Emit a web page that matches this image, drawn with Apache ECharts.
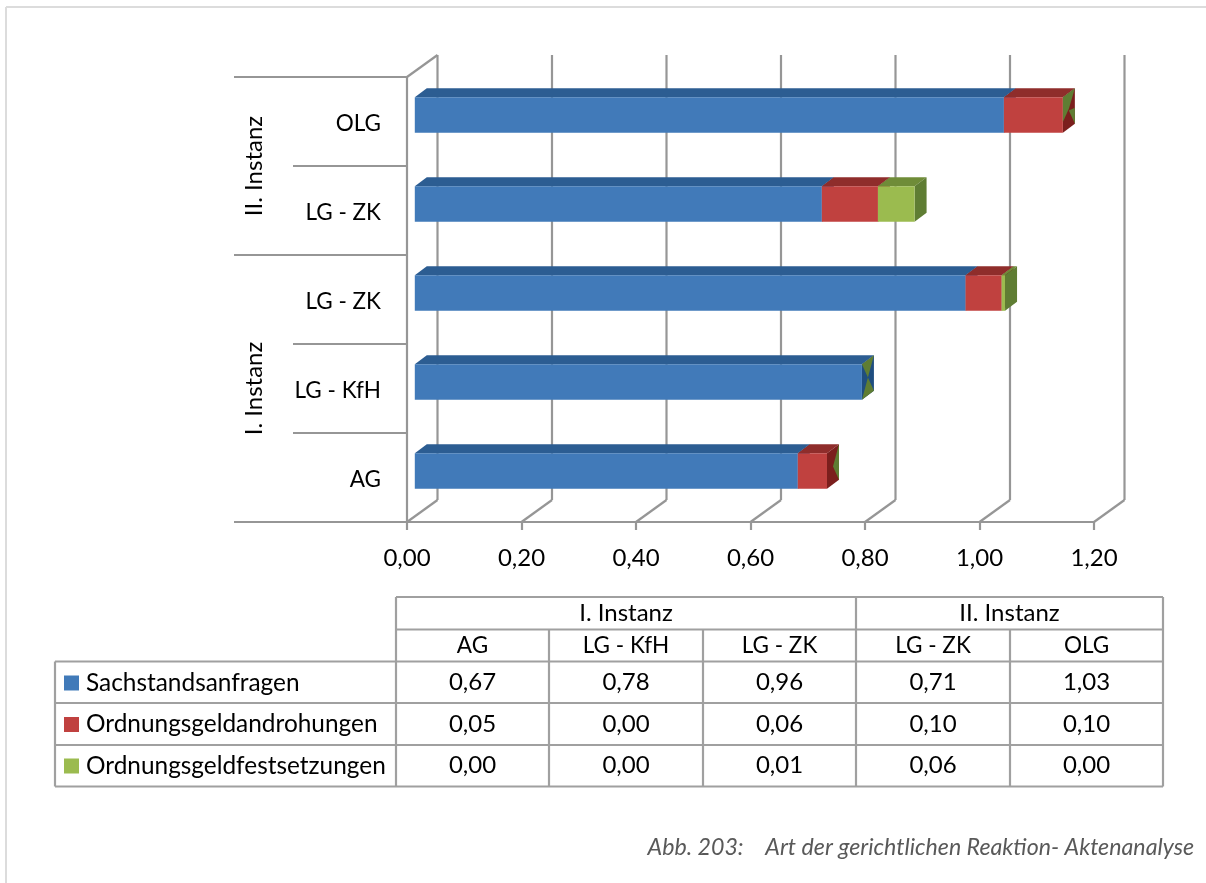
<!DOCTYPE html>
<html><head><meta charset="utf-8">
<style>html,body{margin:0;padding:0;background:#fff}#c{width:1206px;height:883px}</style>
<script src="https://cdn.jsdelivr.net/npm/echarts@6/dist/echarts.min.js"></script>
</head><body><div id="c"></div>
<script>
const categories = ['AG', 'LG - KfH', 'LG - ZK', 'LG - ZK', 'OLG'];
const sachstandsanfragen = [0.669, 0.781, 0.962, 0.711, 1.029];
const ordnungsgeldandrohungen = [0.051, 0.000, 0.063, 0.098, 0.103];
const ordnungsgeldfestsetzungen = [0.000, 0.000, 0.006, 0.064, 0.000];
const seriesNames = ['Sachstandsanfragen', 'Ordnungsgeldandrohungen', 'Ordnungsgeldfestsetzungen'];
const groupLabels = ['I. Instanz', 'II. Instanz'];
const groupFirst = [0, 3];
const groupLast = [2, 4];
const axisTicks = [0, 0.2, 0.4, 0.6, 0.8, 1.0, 1.2];
const caption = 'Abb. 203:    Art der gerichtlichen Reaktion- Aktenanalyse';

const FONT = 'Lato, Carlito, sans-serif';
const FS = 24;
const FS_LEG = 24.4;
const FS_CAT = 22.5;
const LINE = '#969696';
const LW = 2.2;
const DEPTH = [30.5, -22];
const NEAR = [7.8, -6.5], FAR = [19.8, -15.5];
const faces = [
  {front: '#417ab9', top: '#2c5d92', side: '#1f4e80'},
  {front: '#c0413f', top: '#8f2d2b', side: '#7b1f1d'},
  {front: '#9bbb4f', top: '#6f8c38', side: '#5f7d33'}
];
// Where a zero-valued segment z-fights on the bar's end cap (depth u, height w)
const capFacets = {
  0: [[[1,0],[0.5,0.5],[1,1]]],
  1: [[[0,0],[1,0],[0.5,0.5],[1,1],[0,1],[0.5,0.5]]],
  4: [[[0,0],[1,0],[0.5,0.45],[0,0.7]], [[0.5,0.5],[1,0.55],[1,1]]]
};
const valueSets = [sachstandsanfragen, ordnungsgeldandrohungen, ordnungsgeldfestsetzungen];

function segmentData(si) {
  return categories.map((_, c) => {
    let start = 0;
    for (let k = 0; k < si; k++) start += valueSets[k][c];
    return [start, start + valueSets[si][c], c, valueSets[si][c]];
  });
}
function poly(points, fill) {
  return {type: 'polygon', shape: {points}, style: {fill, stroke: null}};
}
function renderSegment(si) {
  return function (params, api) {
    const start = api.value(0), end = api.value(1), cat = api.value(2), val = api.value(3);
    const band = api.size([0, 1])[1];
    const h = band * 0.4;
    const p0 = api.coord([start, cat]);
    const p1 = api.coord([end, cat]);
    const d = [FAR[0] - NEAR[0], FAR[1] - NEAR[1]];
    const xa = p0[0] + NEAR[0], xb = p1[0] + NEAR[0];
    const yt = p0[1] + NEAR[1] - h / 2, yb = yt + h;
    const f = faces[si];
    const children = [];
    if (val > 0) {
      children.push(poly([[xa, yt], [xb, yt], [xb + d[0], yt + d[1]], [xa + d[0], yt + d[1]]], f.top));
      children.push(poly([[xb, yt], [xb + d[0], yt + d[1]], [xb + d[0], yb + d[1]], [xb, yb]], f.side));
      children.push(poly([[xa, yt], [xb, yt], [xb, yb], [xa, yb]], f.front));
    } else if (si === 2 && capFacets[cat]) {
      capFacets[cat].forEach(fc => {
        children.push(poly(fc.map(q => [xb + d[0] * q[0], yt + d[1] * q[0] + h * q[1]]), f.side));
      });
    }
    return {type: 'group', children};
  };
}
function lineEl(x1, y1, x2, y2) {
  return {type: 'line', shape: {x1, y1, x2, y2}, style: {stroke: LINE, lineWidth: LW}};
}
function renderWall(params, api) {
  const v = api.value(0);
  const band = api.size([0, 1])[1];
  const bottom = api.coord([v, 0]);
  const top = api.coord([v, categories.length - 1]);
  const x = bottom[0], yb = bottom[1] + band / 2, yt = top[1] - band / 2;
  const children = [
    lineEl(x + DEPTH[0], yb + DEPTH[1], x + DEPTH[0], yt + DEPTH[1]),
    lineEl(x, yb, x + DEPTH[0], yb + DEPTH[1])
  ];
  if (v === 0) children.push(lineEl(x, yt, x + DEPTH[0], yt + DEPTH[1]));
  return {type: 'group', children};
}
function renderGroups(params, api) {
  const first = api.value(1), last = api.value(2);
  const band = api.size([0, 1])[1];
  const a = api.coord([0, first]), b = api.coord([0, last]);
  const yBottom = a[1] + band / 2, yTop = b[1] - band / 2;
  const x0 = a[0] - 173, x1 = a[0] - 114;
  return {type: 'group', children: [
    lineEl(x0, yBottom, x1, yBottom),
    lineEl(x0, yTop, x1, yTop),
    {type: 'text', x: a[0] - 153, y: (yBottom + yTop) / 2, rotation: Math.PI / 2,
     style: {text: groupLabels[params.dataIndex], fill: '#000', font: FS + 'px ' + FONT, align: 'center', verticalAlign: 'middle'}}
  ]};
}

const fmt = v => v.toFixed(2).replace('.', ',');

// data table under the chart
const colX = [396, 549, 703, 856, 1010, 1163];
const rowY = [597, 629.5, 661.5, 703, 745, 786.5];
const tableLeft = 55;
const gfx = [];
const tl = (x1, y1, x2, y2) => gfx.push({type: 'line', silent: true, shape: {x1, y1, x2, y2}, style: {stroke: '#a0a0a0', lineWidth: LW}});
const tt = (x, y, text, size) => gfx.push({type: 'text', silent: true, x, y, style: {text, fill: '#000', font: (size || FS) + 'px ' + FONT, align: 'center', verticalAlign: 'middle'}});
tl(colX[0], rowY[0], colX[5], rowY[0]);
tl(colX[0], rowY[1], colX[5], rowY[1]);
tl(tableLeft, rowY[2], colX[5], rowY[2]);
tl(tableLeft, rowY[3], colX[5], rowY[3]);
tl(tableLeft, rowY[4], colX[5], rowY[4]);
tl(tableLeft, rowY[5], colX[5], rowY[5]);
tl(tableLeft, rowY[2], tableLeft, rowY[5]);
colX.forEach((x, i) => {
  const spans = (i === 0 || i === 3 || i === 5);
  tl(x, spans ? rowY[0] : rowY[1], x, rowY[5]);
});
groupLabels.forEach((g, i) => tt((colX[groupFirst[i]] + colX[groupLast[i] + 1]) / 2, (rowY[0] + rowY[1]) / 2, g));
categories.forEach((c, i) => {
  const cx = (colX[i] + colX[i + 1]) / 2;
  tt(cx, (rowY[1] + rowY[2]) / 2, c, FS_CAT);
  valueSets.forEach((vals, r) => tt(cx, (rowY[r + 2] + rowY[r + 3]) / 2, fmt(vals[i])));
});
// outer frame and caption
gfx.push({type: 'line', silent: true, shape: {x1: 6, y1: 7, x2: 1206, y2: 7}, style: {stroke: '#dcdcdc', lineWidth: 2}});
gfx.push({type: 'line', silent: true, shape: {x1: 6, y1: 7, x2: 6, y2: 883}, style: {stroke: '#dcdcdc', lineWidth: 2}});
gfx.push({type: 'text', silent: true, x: 1194, y: 848, style: {text: caption, fill: '#595959', font: 'italic 23.2px ' + FONT, align: 'right', verticalAlign: 'middle'}});

const chart = echarts.init(document.getElementById('c'), null, {renderer: 'canvas'});
chart.setOption({
  animation: false,
  backgroundColor: '#fff',
  color: faces.map(f => f.front),
  grid: {left: 407, top: 77, width: 687, height: 445, containLabel: false},
  xAxis: {
    type: 'value', min: 0, max: 1.2, interval: 0.2,
    axisLine: {show: true, lineStyle: {color: LINE, width: LW}},
    axisTick: {show: true, length: 8, lineStyle: {color: LINE, width: LW}},
    splitLine: {show: false},
    axisLabel: {color: '#000', fontFamily: FONT, fontSize: FS, margin: 24, formatter: fmt, hideOverlap: false, showMinLabel: true, showMaxLabel: true}
  },
  yAxis: {
    type: 'category', data: categories,
    axisLine: {show: true, onZero: false, lineStyle: {color: LINE, width: LW}},
    axisTick: {show: true, length: 114, lineStyle: {color: LINE, width: LW}},
    splitLine: {show: false},
    axisLabel: {margin: 26, interval: 0, formatter: '{c|{value}}',
      rich: {c: {color: '#000', fontFamily: FONT, fontSize: FS_CAT, padding: [4, 0, 0, 0]}}}
  },
  legend: {
    show: true, orient: 'vertical', left: 64, top: 671, padding: 0,
    itemWidth: 15, itemHeight: 15, itemGap: 17.5, selectedMode: false,
    icon: 'rect',
    textStyle: {color: '#000', fontFamily: FONT, fontSize: FS_LEG, padding: [0, 0, 0, 2]},
    data: seriesNames
  },
  series: [
    {type: 'custom', name: 'wall', z: 1, silent: true, renderItem: renderWall, data: axisTicks.map(v => [v]), encode: {x: 0}},
    {type: 'custom', name: 'levels', z: 1, silent: true, renderItem: renderGroups,
     data: groupLabels.map((g, i) => [0, groupFirst[i], groupLast[i]]), encode: {x: 0, y: 1}},
    ...seriesNames.map((name, si) => ({
      type: 'custom', name, z: 3 + si, renderItem: renderSegment(si),
      itemStyle: {color: faces[si].front},
      data: segmentData(si), encode: {x: [0, 1], y: 2}
    }))
  ],
  graphic: gfx
});
</script></body></html>
